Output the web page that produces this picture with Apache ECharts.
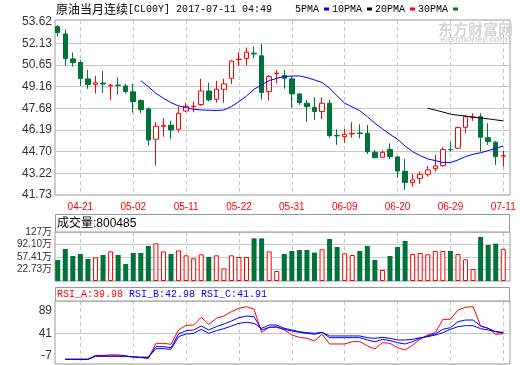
<!DOCTYPE html>
<html><head><meta charset="utf-8">
<script src="https://cdn.jsdelivr.net/npm/echarts@6/dist/echarts.min.js"></script>
<style>html,body{margin:0;padding:0;background:#fff}#c{width:520px;height:365px}</style>
</head><body><div id="c"></div>
<script>
// ---- data ----
const dates = ['04-18','04-19','04-20','04-21','04-24','04-25','04-26','04-27','04-28','05-01','05-02','05-03','05-04','05-05','05-08','05-09','05-10','05-11','05-12','05-15','05-16','05-17','05-18','05-19','05-22','05-23','05-24','05-25','05-26','05-29','05-30','05-31','06-01','06-02','06-05','06-06','06-07','06-08','06-09','06-12','06-13','06-14','06-15','06-16','06-19','06-20','06-21','06-22','06-23','06-26','06-27','06-28','06-29','06-30','07-03','07-05','07-06','07-07','07-10','07-11'];
const tickDates = ['04-21','05-02','05-11','05-22','05-31','06-09','06-20','06-29','07-11'];
const openP  = [53.28,52.77,51.06,50.81,49.69,49.32,49.40,49.21,49.27,49.21,48.80,48.20,47.63,45.55,46.44,46.51,46.24,47.49,47.78,47.93,48.86,48.29,48.98,49.73,51.01,51.08,51.45,51.27,48.82,50.05,49.92,49.69,48.66,48.02,47.74,47.45,48.02,45.82,45.73,45.92,45.98,45.96,44.66,44.32,44.86,44.34,43.36,42.58,42.87,43.15,43.54,43.74,44.86,44.94,46.37,47.03,47.10,45.66,45.35,44.40];
const closeP = [52.87,51.08,50.81,49.71,49.30,49.42,49.34,49.25,49.23,48.82,48.13,47.58,45.50,46.44,46.50,46.19,47.33,47.81,47.82,48.86,48.25,48.98,49.35,50.92,51.05,51.52,51.40,48.75,49.85,50.08,49.73,48.66,48.06,47.79,47.45,48.02,45.80,45.78,45.89,45.95,45.95,44.70,44.29,44.66,44.36,43.38,42.58,42.76,43.15,43.45,43.72,44.86,44.84,46.35,47.10,47.06,45.69,45.39,44.36,44.43];
const lowP   = [52.59,50.60,50.53,49.21,49.00,48.69,48.73,48.25,48.62,48.70,47.38,47.33,45.12,43.74,45.73,45.55,46.03,47.40,47.40,47.84,48.16,48.06,48.06,49.35,50.56,50.60,51.11,48.28,48.20,49.37,49.02,47.72,47.90,46.76,46.88,46.94,45.66,45.16,45.32,45.66,45.62,44.54,44.25,44.29,44.18,42.95,42.08,42.30,42.49,42.99,43.33,43.67,44.70,44.88,45.96,46.81,44.70,45.16,43.80,43.67];
const highP  = [53.39,53.09,51.49,50.99,50.30,49.89,50.24,49.35,49.80,49.35,49.35,48.29,47.74,46.72,46.99,46.81,47.79,48.05,48.13,49.69,49.44,49.55,49.69,50.99,51.52,51.84,51.91,52.09,49.96,50.30,50.30,49.85,48.71,48.25,48.43,48.43,48.25,46.24,46.26,46.72,46.58,46.53,44.82,44.78,45.27,44.36,44.20,43.17,43.33,43.72,44.47,45.00,45.39,46.42,47.22,47.33,47.33,46.65,45.44,44.77];
const ma5 = [null,null,null,null,null,null,null,null,null,null,null,49.57,49.16,48.70,48.36,48.06,47.84,47.72,47.61,47.56,47.54,47.52,47.56,47.79,48.13,48.52,48.98,49.28,49.57,49.73,49.85,49.89,49.89,49.78,49.62,49.44,49.05,48.52,48.02,47.77,47.50,47.10,46.65,46.26,45.89,45.55,45.09,44.70,44.43,44.20,44.09,43.95,43.95,44.13,44.36,44.52,44.63,44.77,44.93,45.09];
const ma10 = [null,null,null,null,null,null,null,null,null,null,null,null,null,null,null,null,null,null,null,null,null,null,null,null,null,null,null,null,null,null,null,null,null,null,null,null,null,null,null,null,null,null,null,null,null,null,null,null,null,47.68,47.55,47.42,47.27,47.20,47.14,47.08,47.01,46.95,46.88,46.81];
const ma20 = [];
const ma30 = [];
const volume = [48.7,79.5,59.9,65.5,51.5,56.2,62.7,72.9,62.7,37.5,68.3,68.3,87.8,95.3,72.9,65.5,75.7,61.8,53.4,64.6,57.1,61.8,25.4,61.8,57.1,57.1,109.3,109.3,72.9,18.0,65.5,73.9,76.7,76.7,69.2,78.5,107.4,85.1,67.3,62.7,73.9,87.8,48.7,20.8,59.9,85.1,101.8,65.5,68.3,64.6,73.9,73.9,73.9,65.5,50.6,23.5,113.0,90.6,94.4,80.0485];
const rsiA = [null,-14.1,-14.1,-14.1,-14.1,-5.6,-5.6,-4.5,-4.5,-7.0,-9.1,-10.5,-12.6,19.8,19.8,17.7,48.1,57.9,58.6,74.9,60.1,72.8,77.7,86.9,93.9,97.5,92.0,43.1,53.7,53.7,48.1,37.5,32.5,30.4,24.8,38.9,18.4,18.4,18.4,23.4,23.4,14.5,8.0,21.2,19.8,10.6,5.7,16.3,28.3,37.5,42.4,70.6,70.6,90.4,96.1,97.5,56.5,51.6,38.9,39.98];
const rsiB = [null,-14.1,-14.1,-14.1,-14.1,-7.0,-7.0,-7.0,-7.0,-7.0,-9.1,-9.8,-9.8,12.8,12.8,10.6,39.6,46.6,48.1,56.5,48.1,55.1,60.8,67.1,74.2,77.7,76.3,48.1,53.7,55.1,49.5,45.9,43.1,41.0,38.9,43.1,31.8,31.8,31.8,31.8,31.8,27.0,23.0,28.3,25.5,21.2,18.4,23.4,30.4,35.4,39.6,49.5,53.0,65.7,69.2,69.2,56.5,51.6,44.5,42.98];
const rsiC = [null,-14.1,-14.1,-14.1,-14.1,-7.7,-7.7,-7.7,-7.7,-7.7,-9.1,-9.8,-9.8,8.5,8.5,7.1,33.9,39.6,41.0,49.5,41.0,46.6,50.9,56.5,62.2,64.3,62.2,51.6,58.6,58.6,51.6,48.1,44.5,42.4,41.0,43.1,35.4,35.4,35.4,35.4,35.4,31.8,30.4,32.5,30.4,26.9,26.9,28.3,31.8,33.9,37.5,42.4,49.5,55.1,57.2,57.2,50.9,48.1,44.5,41.91];
const priceTicks = [41.73,43.22,44.70,46.19,47.68,49.16,50.65,52.13,53.62];
const volTicks = [0,22.73,57.41,92.10,127];
const volTickLabels = ['0','22.73万','57.41万','92.10万','127万'];
const rsiTicks = [89,41,-7];
const rsiGridTicks = [41];

// ---- chart ----
const RED = '#ff0000', GREEN = '#00733a', BLUE = '#0000ff';
const GRID_C = '#c8c8c8', FRAME_C = '#999999';
const tickIdx = tickDates.map(d => dates.indexOf(d));
const candleData = dates.map((d, i) => [i, openP[i], closeP[i], lowP[i], highP[i]]);
const xy = arr => arr.map((v, i) => v == null ? null : [i, v]).filter(p => p);
const volData = volume.map((v, i) => {
  const up = closeP[i] >= openP[i];
  return { value: [i, v], itemStyle: up ? { color: '#fff', borderColor: RED, borderWidth: 1 } : { color: GREEN, borderWidth: 0 } };
});
const XMIN = -0.36, XMAX = 59.89;
function xAx(gi, showLabel) {
  return {
    type: 'value', gridIndex: gi, min: XMIN, max: XMAX,
    axisLine: { show: false },
    axisTick: { show: false, customValues: tickIdx },
    splitLine: { show: true, lineStyle: { color: GRID_C, type: [4, 3], width: 1 } },
    axisLabel: showLabel ? {
      customValues: tickIdx,
      formatter: v => dates[Math.round(v)],
      color: RED, fontSize: 10, fontFamily: 'Liberation Sans', margin: 7
    } : { show: false }
  };
}
const yLabelBase = { color: '#333', fontFamily: 'Liberation Sans', margin: 3 };
const MONO = 'Liberation Mono';
const chart = echarts.init(document.getElementById('c'), null, { renderer: 'canvas' });
chart.setOption({
  animation: false,
  backgroundColor: '#fff',
  title: {
    text: '{a|原油当月连续}{b|[CL00Y] 2017-07-11 04:49}',
    left: 56, top: 3, padding: 0,
    textStyle: { fontWeight: 'normal', rich: {
      a: { fontSize: 12, fontWeight: 'normal', fontFamily: 'Noto Sans CJK SC', color: '#000' },
      b: { fontSize: 10, fontWeight: 'normal', fontFamily: MONO, color: '#000' }
    } }
  },
  legend: {
    left: 295, top: 4, padding: 0, itemGap: 3, itemWidth: 5, itemHeight: 3,
    align: 'right', icon: 'rect',
    textStyle: { fontSize: 10, fontFamily: MONO, color: '#000' },
    data: ['5PMA', '10PMA', '20PMA', '30PMA']
  },
  grid: [
    { left: 55, right: 10, top: 20, height: 175, show: true, borderColor: FRAME_C, borderWidth: 1, backgroundColor: 'transparent' },
    { left: 55, right: 10, top: 232, height: 49, show: true, borderColor: FRAME_C, borderWidth: 1, backgroundColor: 'transparent' },
    { left: 55, right: 10, top: 301, height: 63, show: true, borderColor: FRAME_C, borderWidth: 1, backgroundColor: 'transparent' }
  ],
  xAxis: [xAx(0, true), xAx(1, false), xAx(2, false)],
  yAxis: [
    { type: 'value', gridIndex: 0, min: 41.73, max: 53.727,
      axisLine: { show: false }, axisTick: { show: false, customValues: priceTicks.slice(1, -1) },
      splitLine: { show: true, lineStyle: { color: GRID_C, width: 1 } },
      axisLabel: Object.assign({ customValues: priceTicks, formatter: v => v.toFixed(2), fontSize: 12 }, yLabelBase) },
    { type: 'value', gridIndex: 1, min: -10, max: 127, startValue: -10,
      axisLine: { show: false }, axisTick: { show: false, customValues: volTicks.slice(1, -1) },
      splitLine: { show: true, lineStyle: { color: GRID_C, width: 1 } },
      axisLabel: Object.assign({ customValues: volTicks, fontSize: 10,
        formatter: v => { let k = 0; volTicks.forEach((t, j) => { if (Math.abs(t - v) < Math.abs(volTicks[k] - v)) k = j; }); return volTickLabels[k]; } }, yLabelBase, { fontFamily: 'Liberation Sans, Noto Sans CJK SC' }) },
    { type: 'value', gridIndex: 2, min: -24, max: 109.5,
      axisLine: { show: false }, axisTick: { show: false, customValues: rsiGridTicks },
      splitLine: { show: true, lineStyle: { color: GRID_C, width: 1 } },
      axisLabel: Object.assign({ customValues: rsiTicks, fontSize: 12 }, yLabelBase) }
  ],
  series: [
    { type: 'candlestick', name: 'K', xAxisIndex: 0, yAxisIndex: 0, data: candleData,
      encode: { x: 0, y: [1, 2, 3, 4] }, barWidth: 5,
      itemStyle: { color: '#fff', color0: GREEN, borderColor: RED, borderColor0: GREEN, borderWidth: 1 } },
    { type: 'line', name: '5PMA', xAxisIndex: 0, yAxisIndex: 0, data: xy(ma5), color: BLUE,
      symbol: 'none', lineStyle: { width: 1, color: BLUE } },
    { type: 'line', name: '10PMA', xAxisIndex: 0, yAxisIndex: 0, data: xy(ma10), color: '#000',
      symbol: 'none', lineStyle: { width: 1, color: '#000' } },
    { type: 'line', name: '20PMA', xAxisIndex: 0, yAxisIndex: 0, data: xy(ma20), color: RED,
      symbol: 'none', lineStyle: { width: 1, color: RED } },
    { type: 'line', name: '30PMA', xAxisIndex: 0, yAxisIndex: 0, data: xy(ma30), color: '#008000',
      symbol: 'none', lineStyle: { width: 1, color: '#008000' } },
    { type: 'bar', name: 'VOL', xAxisIndex: 1, yAxisIndex: 1, data: volData, barWidth: 5 },
    { type: 'line', name: 'RSI_A', xAxisIndex: 2, yAxisIndex: 2, data: xy(rsiA), symbol: 'none', lineStyle: { width: 1, color: RED } },
    { type: 'line', name: 'RSI_B', xAxisIndex: 2, yAxisIndex: 2, data: xy(rsiB), symbol: 'none', lineStyle: { width: 1, color: BLUE } },
    { type: 'line', name: 'RSI_C', xAxisIndex: 2, yAxisIndex: 2, data: xy(rsiC), symbol: 'none', lineStyle: { width: 1, color: BLUE } }
  ],
  graphic: [
    { type: 'text', z: 1, style: { text: '东方财富网', x: 438, y: 29, verticalAlign: 'middle', fontSize: 15, fontWeight: 'bold', fontFamily: 'Noto Sans CJK SC', fill: '#d6d6d6' } },
    { type: 'text', z: 1, style: { text: 'eastmoney.com', x: 474, y: 40, align: 'center', verticalAlign: 'middle', fontSize: 9, fontWeight: 'bold', fontStyle: 'italic', fontFamily: 'Liberation Sans', fill: '#d6d6d6' } },
    { type: 'rect', z: 1, shape: { x: 55.5, y: 214.5, width: 454, height: 17.5 }, style: { fill: '#fff', stroke: FRAME_C, lineWidth: 1 } },
    { type: 'text', z: 2, style: { text: '成交量:' + Math.round(volume[volume.length - 1] * 10000), x: 57, y: 223.5, verticalAlign: 'middle', fontSize: 12, fontFamily: 'Liberation Sans, Noto Sans CJK SC', fill: '#000' } },
    { type: 'rect', z: 1, shape: { x: 55.5, y: 287.5, width: 454, height: 13.5 }, style: { fill: '#fff', stroke: FRAME_C, lineWidth: 1 } },
    { type: 'text', z: 2, style: {
      text: '{a|RSI_A:' + rsiA[rsiA.length - 1].toFixed(2) + '} {b|RSI_B:' + rsiB[rsiB.length - 1].toFixed(2) + '} {b|RSI_C:' + rsiC[rsiC.length - 1].toFixed(2) + '}',
      x: 57, y: 294.5, verticalAlign: 'middle', fontSize: 10, fontFamily: MONO,
      rich: { a: { fill: RED, fontSize: 10, fontFamily: MONO }, b: { fill: BLUE, fontSize: 10, fontFamily: MONO } } } }
  ]
});
</script></body></html>
